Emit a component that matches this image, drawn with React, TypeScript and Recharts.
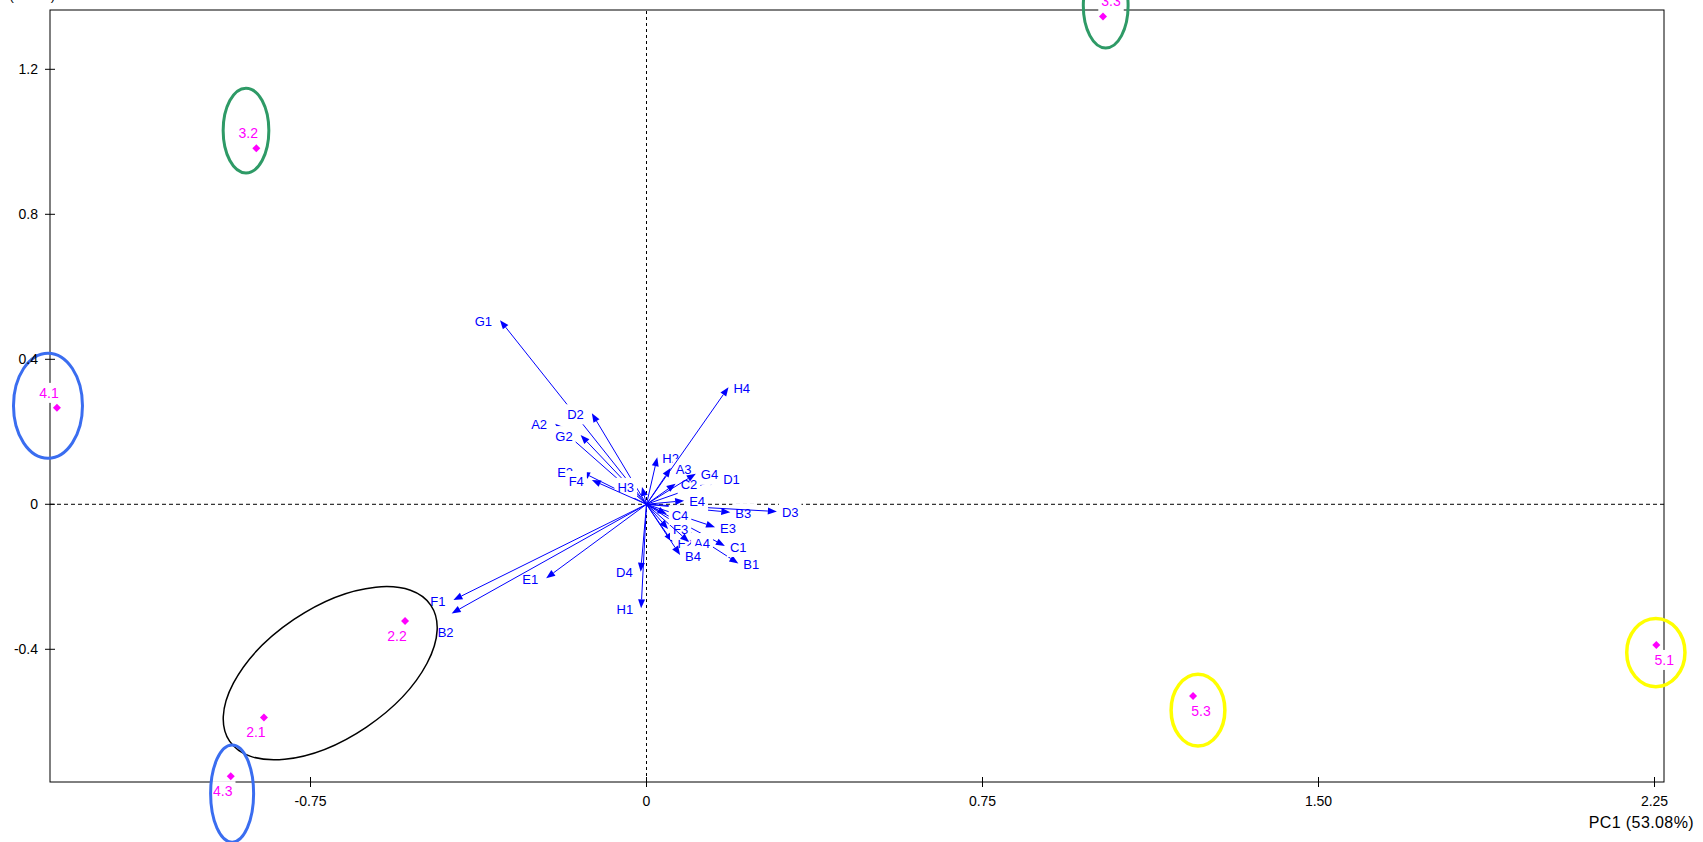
import React from 'react';
import { ScatterChart, Scatter, XAxis, YAxis, ReferenceLine, ReferenceArea } from 'recharts';

// axis ranges + ticks
const xDomain = [-1.3315, 2.2712];
const yDomain = [-0.7661, 1.3636];
const xTicks = [-0.75, 0, 0.75, 1.5, 2.25];
const yTicks = [-0.4, 0, 0.4, 0.8, 1.2];

const xTitle = 'PC1 (53.08%)';
const yTitle = 'PC2 (9.43%)';

// sample scores
const samples = [
  { name: '2.1', x: -0.854, y: -0.588 },
  { name: '2.2', x: -0.539, y: -0.322 },
  { name: '3.2', x: -0.871, y: 0.982 },
  { name: '3.3', x: 1.019, y: 1.346 },
  { name: '4.1', x: -1.316, y: 0.266 },
  { name: '4.3', x: -0.928, y: -0.75 },
  { name: '5.1', x: 2.254, y: -0.388 },
  { name: '5.3', x: 1.22, y: -0.529 },
];

// variable loadings (arrow tips)
const loadings = [
  { name: 'B1', x: 0.205, y: -0.163 },
  { name: 'C1', x: 0.175, y: -0.115 },
  { name: 'D1', x: 0.16, y: 0.07 },
  { name: 'E1', x: -0.224, y: -0.204 },
  { name: 'F1', x: -0.431, y: -0.264 },
  { name: 'G1', x: -0.327, y: 0.508 },
  { name: 'H1', x: -0.012, y: -0.287 },
  { name: 'A2', x: -0.204, y: 0.222 },
  { name: 'B2', x: -0.435, y: -0.301 },
  { name: 'C2', x: 0.065, y: 0.057 },
  { name: 'D2', x: -0.122, y: 0.251 },
  { name: 'E2', x: -0.146, y: 0.09 },
  { name: 'F2', x: 0.058, y: -0.104 },
  { name: 'G2', x: -0.147, y: 0.191 },
  { name: 'H2', x: 0.024, y: 0.13 },
  { name: 'A3', x: 0.054, y: 0.1 },
  { name: 'B3', x: 0.187, y: -0.022 },
  { name: 'D3', x: 0.291, y: -0.02 },
  { name: 'E3', x: 0.153, y: -0.063 },
  { name: 'F3', x: 0.048, y: -0.068 },
  { name: 'H3', x: -0.01, y: 0.048 },
  { name: 'A4', x: 0.095, y: -0.104 },
  { name: 'B4', x: 0.075, y: -0.14 },
  { name: 'C4', x: 0.045, y: -0.027 },
  { name: 'D4', x: -0.013, y: -0.186 },
  { name: 'E4', x: 0.084, y: 0.01 },
  { name: 'F4', x: -0.122, y: 0.067 },
  { name: 'G4', x: 0.11, y: 0.084 },
  { name: 'H4', x: 0.183, y: 0.323 },
];

// hand-drawn group outlines, in data units
const outlines = [
  { group: 'g2', cx: -0.706, cy: -0.466, rx: 0.271, ry: 0.179, tilt: -34 },
  { group: 'g3', cx: -0.894, cy: 1.031, rx: 0.051, ry: 0.117, tilt: 0 },
  { group: 'g3', cx: 1.025, cy: 1.375, rx: 0.05, ry: 0.116, tilt: 0 },
  { group: 'g4', cx: -1.336, cy: 0.272, rx: 0.077, ry: 0.145, tilt: 0 },
  { group: 'g4', cx: -0.925, cy: -0.798, rx: 0.048, ry: 0.134, tilt: 0 },
  { group: 'g5', cx: 2.253, cy: -0.409, rx: 0.065, ry: 0.094, tilt: 0 },
  { group: 'g5', cx: 1.231, cy: -0.568, rx: 0.06, ry: 0.099, tilt: 0 },
];

const outlineStyle: Record<string, { color: string; width: number }> = {
  g2: { color: '#000000', width: 1.5 },
  g3: { color: '#2e9a66', width: 3 },
  g4: { color: '#3a6df0', width: 3 },
  g5: { color: '#ffff00', width: 3.5 },
};

const FONT = "Arial, 'Liberation Sans', sans-serif";
const BLUE = '#0000ff';
const MAGENTA = '#ff00ff';

// rough Arial advance widths, for the white label boxes
const CW: Record<string, number> = {
  '.': 0.278, '-': 0.333, ' ': 0.278, '%': 0.889, '(': 0.333, ')': 0.333,
  A: 0.667, B: 0.667, C: 0.722, D: 0.722, E: 0.667, F: 0.611, G: 0.778, H: 0.722, P: 0.667,
};
const textW = (s: string, fs: number) =>
  s.split('').reduce((a, c) => a + (CW[c] ?? 0.556), 0) * fs;

const fmtX = (v: number) => (v === 0 ? '0' : v.toFixed(2));
const fmtY = (v: number) => (v === 0 ? '0' : v.toFixed(1));

const XTick = (props: any) => {
  const { x, y, payload } = props;
  return (
    <g>
      <line x1={x} y1={y - 5} x2={x} y2={y + 5} stroke="#000" />
      <text x={x} y={y + 24} textAnchor="middle" fontSize={14} fontFamily={FONT} fill="#000">
        {fmtX(payload.value)}
      </text>
    </g>
  );
};

const YTick = (props: any) => {
  const { x, y, payload } = props;
  return (
    <g>
      <line x1={x - 5} y1={y} x2={x + 5} y2={y} stroke="#000" />
      <text x={x - 12} y={y + 5} textAnchor="end" fontSize={14} fontFamily={FONT} fill="#000">
        {fmtY(payload.value)}
      </text>
    </g>
  );
};

const Boxed = ({ text, x, cy, anchor, fs, color }: any) => {
  const w = textW(text, fs);
  const left = anchor === 'end' ? x - w : anchor === 'middle' ? x - w / 2 : x;
  return (
    <g>
      <rect x={left - 3} y={cy - 10} width={w + 6} height={20} fill="#fff" />
      <text x={x} y={cy + fs * 0.35} textAnchor={anchor} fontSize={fs} fontFamily={FONT} fill={color}>
        {text}
      </text>
    </g>
  );
};

const ArrowShape = (props: any) => {
  const { x1, y1, x2, y2, name } = props;
  const dx = x2 - x1;
  const dy = y2 - y1;
  const len = Math.hypot(dx, dy) || 1;
  const ux = dx / len;
  const uy = dy / len;
  const hl = Math.min(9, len * 0.6);
  const hw = 3.5;
  const bx = x2 - ux * hl;
  const by = y2 - uy * hl;
  const head = `${x2},${y2} ${bx - uy * hw},${by + ux * hw} ${bx + uy * hw},${by - ux * hw}`;
  let lbl;
  if (name === 'B2') lbl = <Boxed text={name} x={x2 - 6} cy={y2 + 19} anchor="middle" fs={13} color={BLUE} />;
  else if (x2 < x1) lbl = <Boxed text={name} x={x2 - 8} cy={y2 + 1} anchor="end" fs={13} color={BLUE} />;
  else lbl = <Boxed text={name} x={x2 + 5} cy={y2 + 1} anchor="start" fs={13} color={BLUE} />;
  return (
    <g>
      <line x1={x1} y1={y1} x2={bx} y2={by} stroke={BLUE} strokeWidth={1} />
      <polygon points={head} fill={BLUE} />
      {lbl}
    </g>
  );
};

const SampleShape = (props: any) => {
  const { cx, cy, payload } = props;
  const s = 4;
  const lx = cx + (payload.x < 0 ? -8 : 8);
  const ly = cy + (payload.y > 0 ? -15 : 15);
  return (
    <g>
      <path d={`M${cx},${cy - s}L${cx + s},${cy}L${cx},${cy + s}L${cx - s},${cy}Z`} fill={MAGENTA} />
      <Boxed text={payload.name} x={lx} cy={ly} anchor="middle" fs={14} color={MAGENTA} />
    </g>
  );
};

const OutlineShape = (props: any) => {
  const { x, y, width, height, tilt, color, sw } = props;
  const cx = x + width / 2;
  const cy = y + height / 2;
  return (
    <ellipse
      cx={cx}
      cy={cy}
      rx={Math.abs(width) / 2}
      ry={Math.abs(height) / 2}
      fill="none"
      stroke={color}
      strokeWidth={sw}
      transform={tilt ? `rotate(${tilt} ${cx} ${cy})` : undefined}
    />
  );
};

export default function App() {
  return (
    <div style={{ position: 'absolute', left: 0, top: 0, width: 1703, height: 842, background: '#fff' }}>
      <ScatterChart width={1703} height={842} margin={{ top: 10, right: 39, bottom: 0, left: 0 }}>
        <XAxis
          type="number"
          dataKey="x"
          domain={xDomain}
          ticks={xTicks}
          interval={0}
          height={60}
          axisLine={false}
          tickLine={false}
          tickSize={0}
          tickMargin={0}
          tick={(p: any) => <XTick {...p} />}
          label={{
            content: (p: any) => (
              <text
                x={p.viewBox.x + p.viewBox.width + 30}
                y={p.viewBox.y + 46}
                textAnchor="end"
                fontSize={16}
                letterSpacing={0.4}
                fontFamily={FONT}
                fill="#000"
              >
                {xTitle}
              </text>
            ),
          }}
        />
        <YAxis
          type="number"
          dataKey="y"
          domain={yDomain}
          ticks={yTicks}
          interval={0}
          width={50}
          axisLine={false}
          tickLine={false}
          tickSize={0}
          tickMargin={0}
          tick={(p: any) => <YTick {...p} />}
          label={{
            content: () => (
              <text x={55} y={-0.5} textAnchor="end" fontSize={13} fontFamily={FONT} fill="#000">
                {yTitle}
              </text>
            ),
          }}
        />

        {/* plot frame */}
        <ReferenceArea
          x1={xDomain[0]}
          x2={xDomain[1]}
          y1={yDomain[0]}
          y2={yDomain[1]}
          ifOverflow="visible"
          zIndex={100}
          shape={(p: any) => (
            <rect x={p.x} y={p.y} width={p.width} height={p.height} fill="none" stroke="#000" strokeWidth={1} />
          )}
        />

        <ReferenceLine x={0} stroke="#000" strokeDasharray="3 3" zIndex={150} />
        <ReferenceLine y={0} stroke="#000" strokeDasharray="4 3" zIndex={150} />

        {loadings.map((v) => (
          <ReferenceLine
            key={v.name}
            segment={[{ x: 0, y: 0 }, { x: v.x, y: v.y }]}
            ifOverflow="visible"
            zIndex={200}
            shape={(p: any) => <ArrowShape {...p} name={v.name} />}
          />
        ))}

        <Scatter
          data={samples}
          isAnimationActive={false}
          zIndex={300}
          shape={(p: any) => <SampleShape {...p} />}
        />

        {outlines.map((o, i) => (
          <ReferenceArea
            key={i}
            x1={o.cx - o.rx}
            x2={o.cx + o.rx}
            y1={o.cy - o.ry}
            y2={o.cy + o.ry}
            ifOverflow="visible"
            zIndex={400}
            shape={(p: any) => (
              <OutlineShape
                {...p}
                tilt={o.tilt}
                color={outlineStyle[o.group].color}
                sw={outlineStyle[o.group].width}
              />
            )}
          />
        ))}
      </ScatterChart>
    </div>
  );
}
